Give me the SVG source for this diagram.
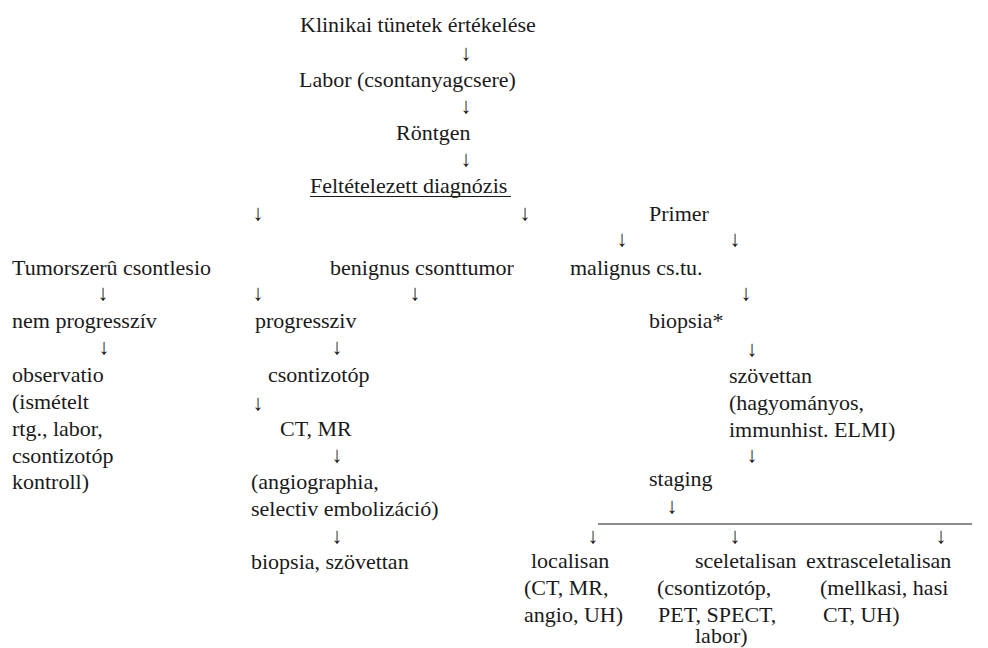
<svg xmlns="http://www.w3.org/2000/svg" width="988" height="648" viewBox="0 0 988 648">
  <style>
    .t { font-family: 'Liberation Serif', serif; font-size: 22px; fill: #1a1a1a; }
    .arr { text-anchor: middle; }
    .rule { stroke: #1a1a1a; stroke-width: 1.2; fill: none; }
  </style>
  <rect width="988" height="648" fill="#ffffff"/>

  <g class="t" font-family="Liberation Serif" font-size="22" fill="#1a1a1a">
    <!-- main trunk -->
    <g id="n-klinikai"><text class="t" x="300" y="32">Klinikai tünetek értékelése</text></g>
    <g id="n-labor"><text class="t" x="299" y="87">Labor (csontanyagcsere)</text></g>
    <g id="n-rontgen"><text class="t" x="396" y="140">Röntgen</text></g>
    <g id="n-diagnozis">
      <text class="t" x="310" y="193">Feltételezett diagnózis</text>
      <line class="rule" x1="310" y1="196.5" x2="511" y2="196.5"/>
    </g>
    <g id="n-primer"><text class="t" x="649" y="221">Primer</text></g>

    <!-- second level -->
    <g id="n-tumorszeru"><text class="t" x="12" y="275">Tumorszerû csontlesio</text></g>
    <g id="n-benignus"><text class="t" x="330" y="275">benignus csonttumor</text></g>
    <g id="n-malignus"><text class="t" x="570" y="275">malignus cs.tu.</text></g>

    <!-- left branch -->
    <g id="n-nemprog"><text class="t" x="12" y="328">nem progresszív</text></g>
    <g id="n-observatio">
      <text class="t" x="12" y="382">observatio</text>
      <text class="t" x="12" y="409">(ismételt</text>
      <text class="t" x="12" y="436">rtg., labor,</text>
      <text class="t" x="12" y="463">csontizotóp</text>
      <text class="t" x="12" y="489">kontroll)</text>
    </g>

    <!-- middle branch -->
    <g id="n-prog"><text class="t" x="255" y="328">progressziv</text></g>
    <g id="n-izotop"><text class="t" x="268" y="382">csontizotóp</text></g>
    <g id="n-ctmr"><text class="t" x="280" y="436">CT, MR</text></g>
    <g id="n-angio">
      <text class="t" x="251" y="489">(angiographia,</text>
      <text class="t" x="251" y="516">selectiv embolizáció)</text>
    </g>
    <g id="n-biopsia-szov"><text class="t" x="251" y="569">biopsia, szövettan</text></g>

    <!-- right branch -->
    <g id="n-biopsia"><text class="t" x="649" y="328">biopsia*</text></g>
    <g id="n-szovettan">
      <text class="t" x="729" y="383">szövettan</text>
      <text class="t" x="729" y="410">(hagyományos,</text>
      <text class="t" x="729" y="437">immunhist. ELMI)</text>
    </g>
    <g id="n-staging"><text class="t" x="649" y="486">staging</text></g>
    <g id="n-localisan">
      <text class="t" x="531" y="568">localisan</text>
      <text class="t" x="524" y="595">(CT, MR,</text>
      <text class="t" x="524" y="622">angio, UH)</text>
    </g>
    <g id="n-sceletalisan">
      <text class="t" x="695" y="568">sceletalisan</text>
      <text class="t" x="657" y="595">(csontizotóp,</text>
      <text class="t" x="658" y="622">PET, SPECT,</text>
      <text class="t" x="695" y="643">labor)</text>
    </g>
    <g id="n-extra">
      <text class="t" x="806" y="568">extrasceletalisan</text>
      <text class="t" x="820" y="595">(mellkasi, hasi</text>
      <text class="t" x="823" y="622">CT, UH)</text>
    </g>

    <!-- connectors: arrow glyphs and the staging bar -->
    <g id="connectors">
      <line class="rule" x1="598" y1="524" x2="972" y2="524"/>
      <text class="t arr" x="466" y="60">↓</text>
      <text class="t arr" x="466" y="113">↓</text>
      <text class="t arr" x="466" y="166">↓</text>
      <text class="t arr" x="258" y="220">↓</text>
      <text class="t arr" x="525" y="220">↓</text>
      <text class="t arr" x="622" y="246">↓</text>
      <text class="t arr" x="735" y="246">↓</text>
      <text class="t arr" x="103" y="300">↓</text>
      <text class="t arr" x="258" y="300">↓</text>
      <text class="t arr" x="415" y="300">↓</text>
      <text class="t arr" x="746" y="300">↓</text>
      <text class="t arr" x="104" y="354">↓</text>
      <text class="t arr" x="337" y="354">↓</text>
      <text class="t arr" x="752" y="356">↓</text>
      <text class="t arr" x="258" y="410">↓</text>
      <text class="t arr" x="337" y="462">↓</text>
      <text class="t arr" x="752" y="462">↓</text>
      <text class="t arr" x="672" y="513">↓</text>
      <text class="t arr" x="337" y="543">↓</text>
      <text class="t arr" x="593" y="543">↓</text>
      <text class="t arr" x="735" y="543">↓</text>
      <text class="t arr" x="941" y="543">↓</text>
    </g>
  </g>
</svg>
